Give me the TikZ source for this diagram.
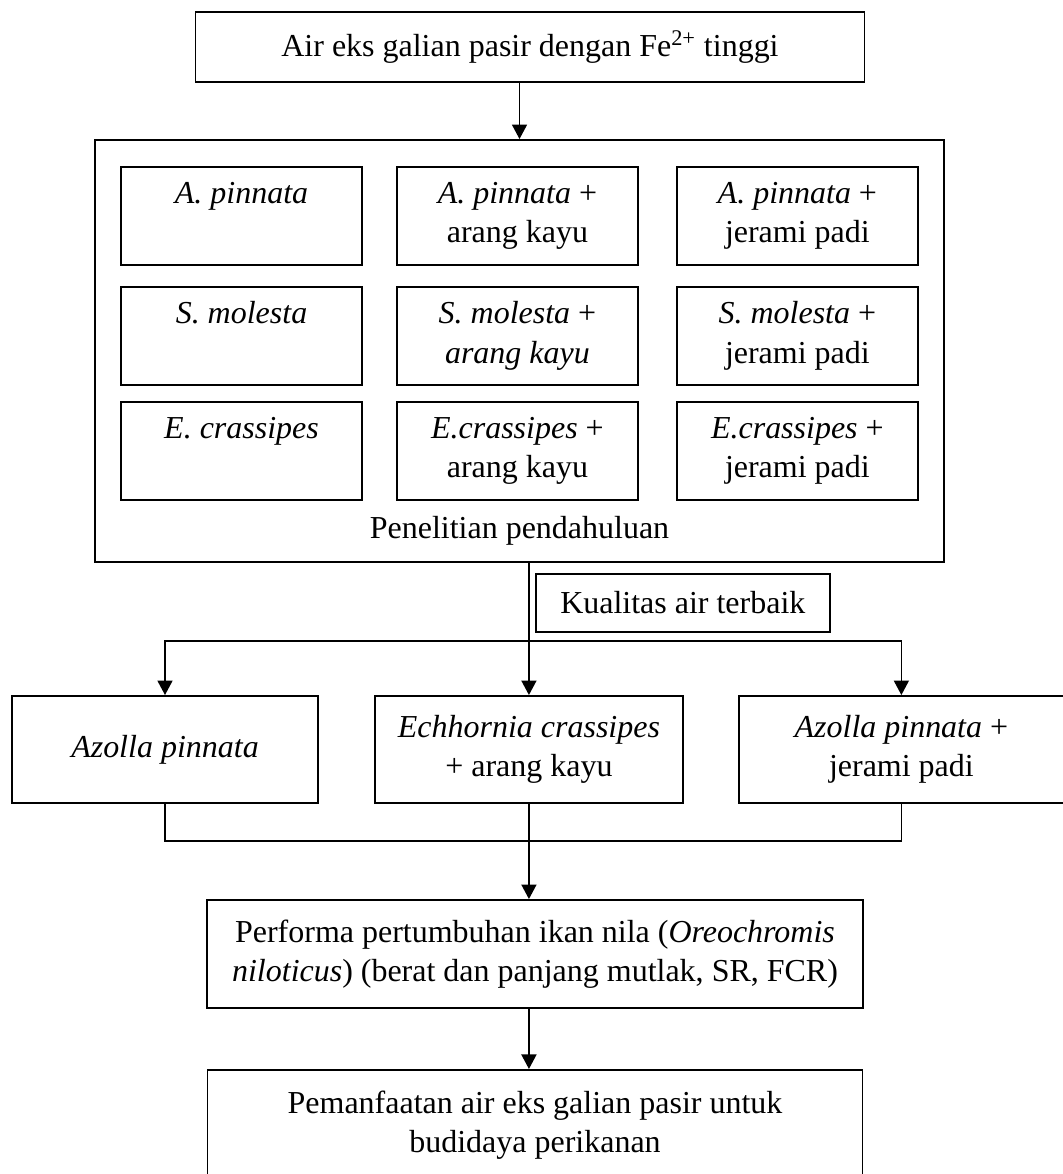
\documentclass[tikz,border=0pt]{standalone}
\usepackage{fontspec}
\setmainfont{Liberation Serif}
\usetikzlibrary{arrows.meta,positioning}
\tikzset{
    flowdraw/.style={draw, line width=1.1pt, align=center, inner sep=2pt},
    mainnode/.style={flowdraw, minimum width=13.38cm, minimum height=1.4cm},
    groupnode/.style={flowdraw, minimum width=16.98cm, minimum height=8.44cm},
    trialnode/.style={flowdraw, minimum width=4.82cm, minimum height=1.96cm},
    choicenode/.style={flowdraw, minimum width=6.12cm, minimum height=2.14cm},
    resultnode/.style={flowdraw, minimum width=13.12cm, minimum height=2.16cm},
    flowline/.style={line width=1pt},
    flowarrow/.style={flowline, -{Triangle[width=0.3cm,length=0.29cm]}}
}

\begin{document}
\begin{tikzpicture}[font=\fontsize{18.2}{22.4}\selectfont]
        \useasboundingbox (0,0) rectangle (21.24,-23.48);

        \node[mainnode] (source) at (10.6,-0.94) {Air eks galian pasir dengan Fe\textsuperscript{2+} tinggi};

        % preliminary trials
        \node[groupnode] (prelim) at (10.39,-7.02) {};
        \node[trialnode, below right=0.54cm and 0.52cm of prelim.north west] (apin) {\textit{A. pinnata}\\\vphantom{g}};
        \node[trialnode, right=0.66cm of apin] (apinak) {\textit{A. pinnata} +\\arang kayu};
        \node[trialnode, right=0.74cm of apinak] (apinjp) {\textit{A. pinnata} +\\jerami padi};

        \node[trialnode, below=0.4cm of apin] (smol) {\textit{S. molesta}\\\vphantom{g}};
        \node[trialnode, right=0.66cm of smol] (smolak) {\textit{S. molesta} +\\\textit{arang kayu}};
        \node[trialnode, right=0.74cm of smolak] (smoljp) {\textit{S. molesta} +\\jerami padi};

        \node[trialnode, below=0.3cm of smol] (ecra) {\textit{E. crassipes}\\\vphantom{g}};
        \node[trialnode, right=0.66cm of ecra] (ecraak) {\textit{E.crassipes} +\\arang kayu};
        \node[trialnode, right=0.74cm of ecraak] (ecrajp) {\textit{E.crassipes} +\\jerami padi};

        \node[anchor=base] (prelimlabel) at ([yshift=0.48cm]prelim.south) {Penelitian pendahuluan};

        \node[flowdraw, line width=0.9pt, minimum width=5.88cm, minimum height=1.16cm, below right=0.2cm and 0.31cm of prelim.south] (quality) {Kualitas air terbaik};

        % selected treatments
        \node[choicenode] (aza) at (3.3,-14.99) {\textit{Azolla pinnata}};
        \node[choicenode, minimum width=6.16cm, right=1.1cm of aza] (ech) {\textit{Echhornia crassipes}\\+ arang kayu};
        \node[choicenode, minimum width=6.5cm, right=1.08cm of ech] (azj) {\textit{Azolla pinnata} +\\jerami padi};

        \node[resultnode] (perf) at (10.7,-19.08) {Performa pertumbuhan ikan nila (\textit{Oreochromis}\\\textit{niloticus}) (berat dan panjang mutlak, SR, FCR)};
        \node[resultnode, minimum width=13.1cm, minimum height=2.2cm, below=1.2cm of perf] (use) {Pemanfaatan air eks galian pasir untuk\\budidaya perikanan};

        \coordinate (bus) at (0,-12.82);
        \coordinate (merge) at (0,-16.82);

        \draw[flowarrow] (source.south -| prelim.north) -- (prelim.north);
        \draw[flowarrow] (prelim.south -| ech.north) -- (ech.north);
        \draw[flowarrow] (ech.north |- bus) -| (aza.north);
        \draw[flowarrow] (ech.north |- bus) -| (azj.north);

        \draw[flowline] (aza.south) -- (aza.south |- merge) -| (azj.south);
        \draw[flowarrow] (ech.south) -- (ech.south |- perf.north);
        \draw[flowarrow] (perf.south -| ech.south) -- (use.north -| ech.south);
    \end{tikzpicture}
\end{document}
